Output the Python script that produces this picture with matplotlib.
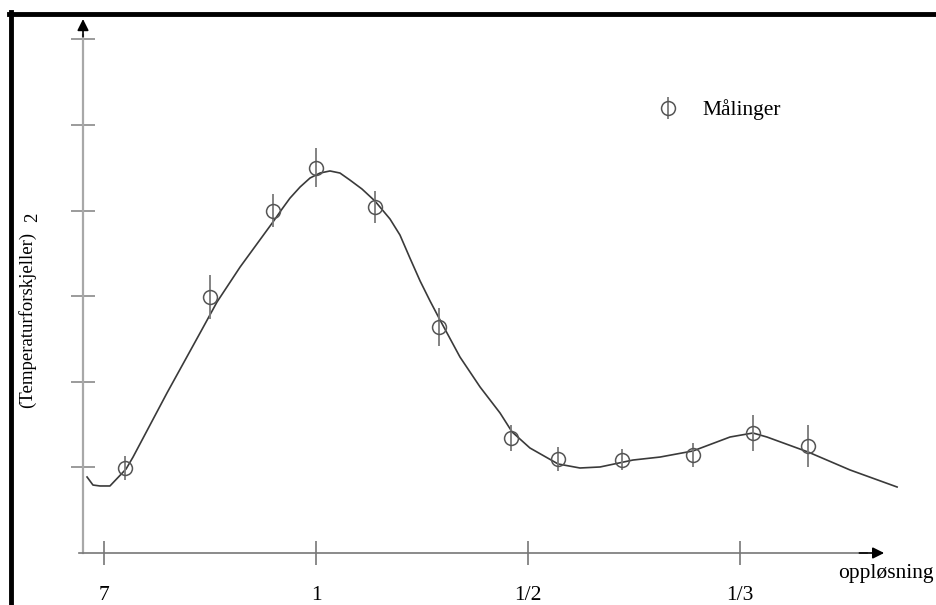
import numpy as np
import matplotlib.pyplot as plt
from matplotlib.lines import Line2D

plt.rcParams['font.family'] = ['Liberation Serif', 'DejaVu Serif']

# ── data (x in tick units: 7 -> 0, 1 -> 1, 1/2 -> 2, 1/3 -> 3) ───────────
meas_x   = [0.099, 0.500, 0.797, 1.000, 1.278, 1.580, 1.920, 2.142, 2.443, 2.778, 3.061, 3.321]
meas_y   = [0.99, 2.99, 4.00, 4.50, 4.04, 2.64, 1.34, 1.10, 1.09, 1.14, 1.40, 1.25]
meas_err = [0.14, 0.26, 0.19, 0.23, 0.19, 0.22, 0.15, 0.14, 0.12, 0.14, 0.21, 0.25]

curve_x = [-0.080, -0.052, -0.019, 0.028, 0.104, 0.137, 0.297, 0.453, 0.533, 0.642,
           0.797, 0.840, 0.877, 0.925, 0.972, 1.019, 1.066, 1.113, 1.160, 1.217,
           1.278, 1.349, 1.396, 1.443, 1.491, 1.538, 1.585, 1.679,
           1.774, 1.868, 1.925, 2.009, 2.142, 2.245, 2.340, 2.495, 2.623, 2.778,
           2.953, 3.061, 3.127, 3.321, 3.519, 3.741]
curve_y = [0.888, 0.794, 0.783, 0.783, 0.981, 1.121, 1.869, 2.570, 2.932, 3.341,
           3.867, 4.019, 4.145, 4.276, 4.381, 4.439, 4.463, 4.439, 4.357, 4.252,
           4.112, 3.902, 3.715, 3.446, 3.178, 2.944, 2.722, 2.290,
           1.939, 1.636, 1.414, 1.227, 1.040, 0.993, 1.005, 1.086, 1.121, 1.192,
           1.355, 1.402, 1.355, 1.180, 0.970, 0.771]

xtick_pos    = [0, 1, 2, 3]
xtick_labels = ['7', '1', '1/2', '1/3']
ytick_pos    = [1, 2, 3, 4, 5, 6]

# ── figure ────────────────────────────────────────────────────────────────
fig = plt.figure(figsize=(9.37, 6.05), dpi=100)
ax = fig.add_axes([0, 0, 1, 1])
ax.patch.set_visible(False)
ax.set_xlim(-104 / 212, (937 - 104) / 212)
ax.set_ylim(-52 / 85.6, 553 / 85.6)

ax.plot(curve_x, curve_y, color='#3a3a3a', lw=1.2, zorder=2)
ax.errorbar(meas_x, meas_y, yerr=meas_err, fmt='o', mfc='none', mec='#555555',
            mew=1.1, ms=10, ecolor='#7a7a7a', elinewidth=1.3, capsize=0,
            label='Målinger', zorder=3)

# axes as arrows
x0 = -0.099
for s in ['top', 'right']:
    ax.spines[s].set_visible(False)
ax.spines['left'].set_position(('data', x0))
ax.spines['left'].set_bounds(0, 6.05)
ax.spines['left'].set_color('#a8a8a8')
ax.spines['left'].set_linewidth(1.6)
ax.spines['bottom'].set_position(('data', 0))
ax.spines['bottom'].set_bounds(-0.12, 3.6)
ax.spines['bottom'].set_color('#777777')
ax.spines['bottom'].set_linewidth(1.2)

ax.annotate('', xy=(x0, 6.27), xytext=(x0, 6.0),
            arrowprops=dict(arrowstyle='-|>', color='black', lw=1.2, mutation_scale=17))
ax.annotate('', xy=(3.693, 0), xytext=(3.55, 0),
            arrowprops=dict(arrowstyle='-|>', color='black', lw=1.2, mutation_scale=17))

ax.set_yticks(ytick_pos)
ax.set_yticklabels([])
ax.tick_params(axis='y', direction='inout', length=17, width=1.2, color='#8a8a8a')
ax.set_xticks(xtick_pos)
ax.set_xticklabels(xtick_labels, fontsize=15.5)
ax.tick_params(axis='x', direction='inout', length=17, width=1.2, color='#777777', pad=15)

ax.legend(loc='center left', bbox_to_anchor=(651.5 / 937, 1 - 110 / 605),
          frameon=False, fontsize=15.5, handlelength=1.5, handletextpad=0.85,
          borderpad=0, borderaxespad=0)

fig.text(838 / 937, 1 - 578 / 605, 'oppløsning', fontsize=15.5, ha='left', va='baseline')
fig.text(27 / 937, 1 - 320 / 605, '(Temperaturforskjeller)', fontsize=13.5,
         rotation=90, ha='center', va='center')
fig.text(33 / 937, 1 - 217 / 605, '2', fontsize=13.5, rotation=90, ha='center', va='center')

# frame lines on the left and top
fig.add_artist(Line2D([11 / 937, 11 / 937], [0, 1 - 12 / 605], transform=fig.transFigure,
                      color='black', lw=3.5))
fig.add_artist(Line2D([9 / 937, 1], [1 - 14 / 605, 1 - 14 / 605], transform=fig.transFigure,
                      color='black', lw=3.5))

plt.savefig('out.png', dpi=100)
